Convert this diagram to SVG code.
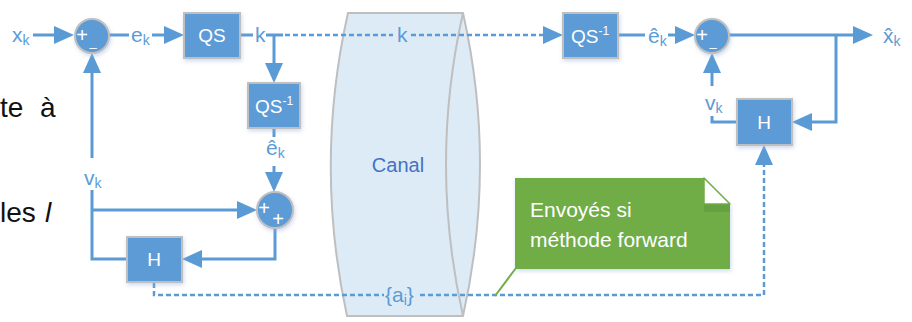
<svg xmlns="http://www.w3.org/2000/svg" width="912" height="322" viewBox="0 0 912 322">
  <defs>
    <style>
      .wire { fill: none; stroke: #5B9BD5; stroke-width: 3; }
      .dot { fill: none; stroke: #5B9BD5; stroke-width: 2.5; stroke-dasharray: 5 3; }
      .box { fill: #5B9BD5; stroke: #BFBFBF; stroke-width: 2; filter: url(#soft); }
      .sum { fill: #5B9BD5; stroke: #BFBFBF; stroke-width: 2; filter: url(#soft); }
      .lbl { font-family: "Liberation Sans", Arial, sans-serif; font-size: 21px; fill: #5B9BD5; }
      .in { font-family: "Liberation Sans", Arial, sans-serif; font-size: 19px; fill: #FFFFFF; text-anchor: middle; }
      .sign { font-family: "Liberation Sans", Arial, sans-serif; font-size: 20px; fill: #FFFFFF; text-anchor: middle; }
      .minus { font-family: "Liberation Sans", Arial, sans-serif; font-size: 13px; fill: #FFFFFF; text-anchor: middle; }
      .page { font-family: "Liberation Sans", Arial, sans-serif; font-size: 28px; fill: #111111; }
      .note { font-family: "Liberation Sans", Arial, sans-serif; font-size: 21px; fill: #FFFFFF; }
    </style>
    <filter id="soft" x="-30%" y="-30%" width="160%" height="160%">
      <feDropShadow dx="1" dy="2" stdDeviation="2" flood-color="#8FAADC" flood-opacity="0.45"/>
    </filter>
    <marker id="arrow" markerUnits="userSpaceOnUse" markerWidth="20" markerHeight="18" refX="0" refY="9" orient="auto" overflow="visible">
      <path d="M0,0 L20,9 L0,18 Z" fill="#5B9BD5"/>
    </marker>
  </defs>

  <!-- surrounding page text -->
  <text class="page" x="0" y="117">te</text>
  <text class="page" x="40" y="117">à</text>
  <text class="page" x="0" y="222">les</text>
  <text class="page" x="45" y="222" font-family="Liberation Serif, serif" font-style="italic">l</text>

  <!-- channel -->
  <g id="canal">
    <path d="M348,13 L463,13 Q497,164 463,316 L347,316 Q314,164 348,13 Z" fill="#DDEBF7" stroke="#BFBFBF" stroke-width="2"/>
    <path d="M463,13 Q429,164 463,316" fill="none" stroke="#BFBFBF" stroke-width="2"/>
    <text x="398" y="172" text-anchor="middle" font-family="Liberation Sans, Arial, sans-serif" font-size="20" fill="#4472C4">Canal</text>
  </g>

  <!-- connectors -->
  <g id="connectors">
    <!-- encoder -->
    <path class="wire" d="M33,35 H54" marker-end="url(#arrow)"/>
    <path class="wire" d="M109,35 H129"/>
    <path class="wire" d="M152,35 H164" marker-end="url(#arrow)"/>
    <path class="wire" d="M240,35 H253"/>
    <path class="wire" d="M266,35 H283"/>
    <path class="wire" d="M274,35 V63" marker-end="url(#arrow)"/>
    <path class="wire" d="M274,128 V137"/>
    <path class="wire" d="M274,166 V172" marker-end="url(#arrow)"/>
    <path class="wire" d="M92,158 V73" marker-end="url(#arrow)"/>
    <path class="wire" d="M92,190 V259 H127"/>
    <path class="wire" d="M92,210 H237" marker-end="url(#arrow)"/>
    <path class="wire" d="M275,228 V259 H202" marker-end="url(#arrow)"/>
    <!-- transmitted index -->
    <path class="dot" d="M285,35 H393"/>
    <path class="dot" d="M411,35 H543" marker-end="url(#arrow)"/>
    <!-- predictor coefficients -->
    <path class="dot" d="M154,283 V295 H384"/>
    <path class="dot" d="M420,295 H764 V165" marker-end="url(#arrow)"/>
    <!-- decoder -->
    <path class="wire" d="M618,35 H645"/>
    <path class="wire" d="M668,35 H675" marker-end="url(#arrow)"/>
    <path class="wire" d="M729,35 H853" marker-end="url(#arrow)"/>
    <path class="wire" d="M836,35 V122 H812" marker-end="url(#arrow)"/>
    <path class="wire" d="M737,122 H712 V116"/>
    <path class="wire" d="M712,86 V73" marker-end="url(#arrow)"/>
    <!-- callout pointer -->
    <path d="M516,268 L495,296" fill="none" stroke="#70AD47" stroke-width="2"/>
  </g>

  <!-- signal labels -->
  <g id="labels">
    <text class="lbl" x="12" y="42">x<tspan font-size="14" dy="3">k</tspan></text>
    <text class="lbl" x="131" y="42">e<tspan font-size="14" dy="3">k</tspan></text>
    <text class="lbl" x="255" y="42">k</text>
    <text class="lbl" x="397" y="42">k</text>
    <text class="lbl" x="266" y="155">ê<tspan font-size="14" dy="3">k</tspan></text>
    <text class="lbl" x="84" y="185">v<tspan font-size="14" dy="3">k</tspan></text>
    <text class="lbl" x="385" y="302">{a<tspan font-size="14" dy="3">i</tspan><tspan dy="-3">}</tspan></text>
    <text class="lbl" x="648" y="43">ê<tspan font-size="14" dy="3">k</tspan></text>
    <text class="lbl" x="705" y="110">v<tspan font-size="14" dy="3">k</tspan></text>
    <text class="lbl" x="883" y="43">x̂<tspan font-size="14" dy="3">k</tspan></text>
  </g>

  <!-- encoder blocks -->
  <g id="sum-encoder">
    <circle class="sum" cx="92" cy="36" r="17"/>
    <text class="sign" x="82" y="42">+</text>
    <text class="minus" x="93" y="46">_</text>
  </g>
  <g id="qs">
    <rect class="box" x="184" y="13" width="56" height="45"/>
    <text class="in" x="212" y="42">QS</text>
  </g>
  <g id="qs-inv-encoder">
    <rect class="box" x="248" y="83" width="52" height="45"/>
    <text class="in" x="274" y="113">QS<tspan font-size="12" dy="-8">-1</tspan></text>
  </g>
  <g id="sum-reconstruct">
    <circle class="sum" cx="275" cy="210" r="18"/>
    <text class="sign" x="264" y="215">+</text>
    <text class="sign" x="278" y="226">+</text>
  </g>
  <g id="h-encoder">
    <rect class="box" x="127" y="237" width="55" height="45"/>
    <text class="in" x="154" y="266">H</text>
  </g>

  <!-- decoder blocks -->
  <g id="qs-inv-decoder">
    <rect class="box" x="563" y="13" width="55" height="45"/>
    <text class="in" x="590" y="43">QS<tspan font-size="12" dy="-8">-1</tspan></text>
  </g>
  <g id="sum-decoder">
    <circle class="sum" cx="712" cy="36" r="17"/>
    <text class="sign" x="702" y="42">+</text>
    <text class="minus" x="713" y="46">_</text>
  </g>
  <g id="h-decoder">
    <rect class="box" x="737" y="99" width="55" height="46"/>
    <text class="in" x="764" y="129">H</text>
  </g>

  <!-- note -->
  <g id="note-forward">
    <path d="M515,178 H704 L730,204 V269 H515 Z" fill="#70AD47" filter="url(#soft)"/>
    <path d="M704,204 H730 V212 H704 Z" fill="#5E9A3C" opacity="0.6"/>
    <path d="M704,178 V204 H730 Z" fill="#FFFFFF" stroke="#70AD47" stroke-width="1.5" stroke-linejoin="round"/>
    <text class="note" x="530" y="217">Envoyés si</text>
    <text class="note" x="530" y="247">méthode forward</text>
  </g>
</svg>
